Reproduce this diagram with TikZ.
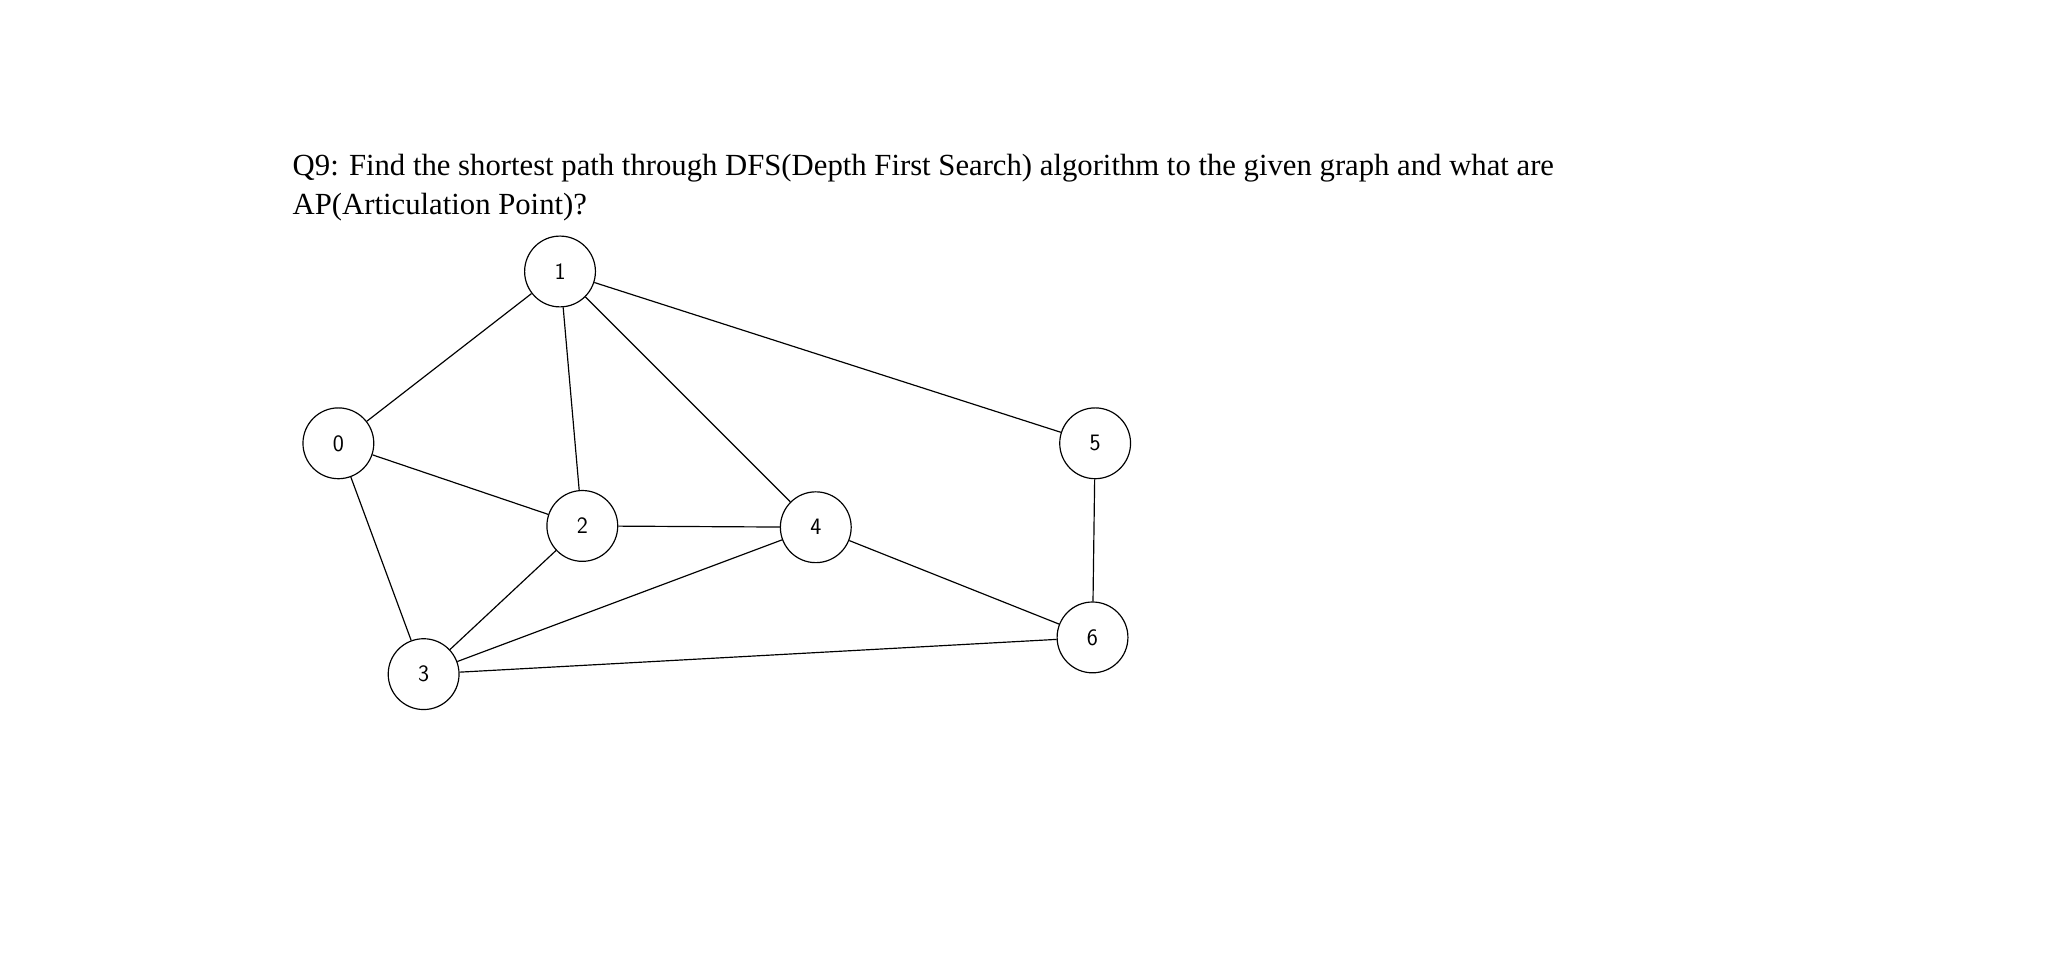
\documentclass[tikz,border=0pt]{standalone}
\usepackage{fontspec}
\setmainfont{Liberation Serif}
\newfontfamily\hand{Comic Neue}
\begin{document}
\begin{tikzpicture}[x=1bp,y=-1bp,
  vert/.style={draw,circle,minimum size=54bp,inner sep=0pt,line width=0.9bp,font=\fontsize{18}{20}\sffamily},
  edge/.style={line width=0.9bp}]
\useasboundingbox (0,0) rectangle (1560,735);
\node[anchor=base west,font=\fontsize{24}{30}\selectfont,align=left] (q) at (223,139) {};
\node[anchor=north west,inner sep=0pt,font=\fontsize{23.5}{30}\selectfont,align=left] (txt) at (223,117)
 {Q9: Find the shortest path through DFS(Depth First Search) algorithm to the given graph and what are\\AP(Articulation Point)?};
\node[vert] (n0) at (258,338) {0};
\node[vert] (n1) at (427,207) {1};
\node[vert] (n2) at (444,401) {2};
\node[vert] (n3) at (323,514) {3};
\node[vert] (n4) at (622,402) {4};
\node[vert] (n5) at (835,338) {5};
\node[vert] (n6) at (833,486) {6};
\foreach \a/\b in {n0/n1,n0/n2,n0/n3,n1/n2,n1/n4,n1/n5,n2/n4,n2/n3,n3/n4,n3/n6,n4/n6,n5/n6}
  \draw[edge] (\a) -- (\b);
\end{tikzpicture}
\end{document}
